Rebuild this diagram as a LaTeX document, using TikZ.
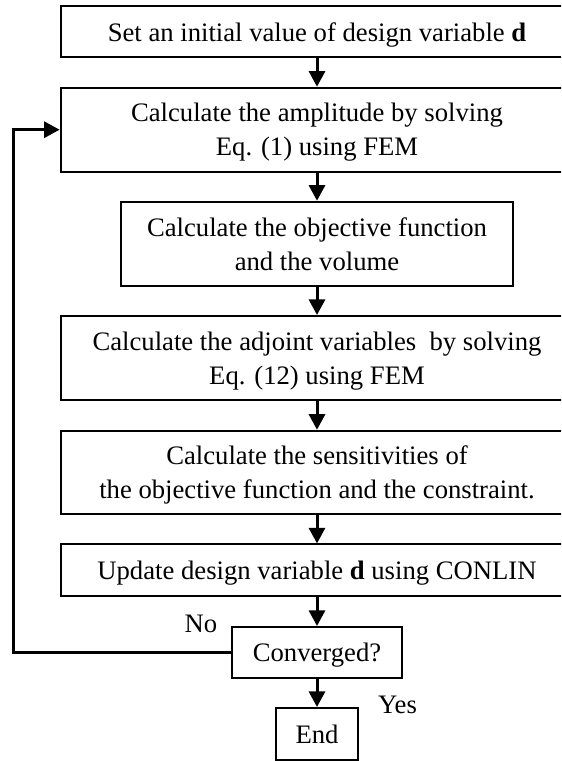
\documentclass[tikz,border=0pt]{standalone}
\usepackage{fontspec}
\setmainfont{Liberation Serif}
\usetikzlibrary{arrows.meta}

\begin{document}
\begin{tikzpicture}[x=0.45pt,y=-0.45pt]
	\tikzstyle{Box} = [draw,line width=0.9pt,inner sep=0pt,align=center,text depth=0pt,font=\fontsize{12}{15.3}\selectfont]
	\tikzstyle{Wide} = [Box,minimum width=230.7pt]
	\tikzstyle{Label} = [inner sep=0pt,font=\fontsize{12}{15.3}\selectfont]
	\tikzstyle{Flow} = [-{Triangle[length=7pt,width=7.2pt]},line width=1.35pt]
	\useasboundingbox (0,0) rectangle (561,761);
	\clip (0,0) rectangle (561,761);
	% boxes, the wide ones run past the right edge
	\node[Wide,minimum height=23.1pt] (Init) at (317,31.7) {Set an initial value of design variable \textbf{d}};
	\node[Wide,minimum height=37.8pt] (Ampl) at (317,129.7) {Calculate the amplitude by solving\\Eq. (1) using FEM};
	\node[Box,minimum width=176.1pt,minimum height=37.8pt] (Obj) at (317,243.7) {Calculate the objective function\\and the volume};
	\node[Wide,minimum height=37.8pt] (Adj) at (317,358) {Calculate the adjoint variables~ by solving\\Eq. (12) using FEM};
	\node[Wide,minimum height=37.6pt] (Sens) at (317,472.5) {Calculate the sensitivities of\\the objective function and the constraint.};
	\node[Wide,minimum height=23.2pt] (Upd) at (317,570.2) {Update design variable \textbf{d} using CONLIN};
	\node[Box,minimum width=76.2pt,minimum height=23pt] (Conv) at (317,652.5) {Converged?};
	\node[Box,minimum width=36.9pt,minimum height=23.4pt] (End) at (317,734) {End};
	\node[Label] (No) at (201,624) {No};
	\node[Label] (Yes) at (397.5,705) {Yes};
	\coordinate (Loop) at (13.3,0);
	% arrows
	\draw[Flow] (Init.south) -- (Ampl.north);
	\draw[Flow] (Ampl.south) -- (Obj.north);
	\draw[Flow] (Obj.south) -- (Adj.north);
	\draw[Flow] (Adj.south) -- (Sens.north);
	\draw[Flow] (Sens.south) -- (Upd.north);
	\draw[Flow] (Upd.south) -- (Conv.north);
	\draw[Flow] (Conv.south) -- (End.north);
	\draw[Flow] (Conv.west) -- (Conv.west -| Loop) |- (Ampl.west);
\end{tikzpicture}
\end{document}
